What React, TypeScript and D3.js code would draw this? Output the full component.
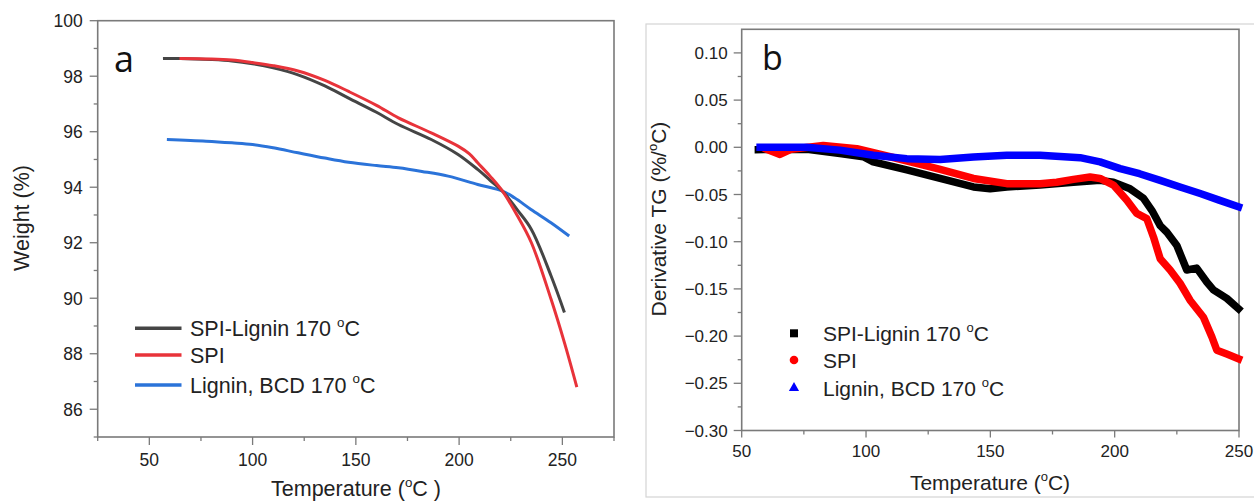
import React from "react";
import * as d3 from "d3";

// ---------- Panel a data (TGA weight %) ----------
const aBlackT = [56.6, 65, 80, 90, 100, 110, 122, 135, 146.5, 160, 170.6, 186.5, 199.5, 209, 215, 221, 228, 235, 244.5, 251];
const aBlackW = [98.64, 98.64, 98.6, 98.55, 98.45, 98.3, 98.05, 97.65, 97.21, 96.7, 96.26, 95.72, 95.18, 94.64, 94.25, 93.86, 93.2, 92.48, 90.81, 89.49];
const aRedT = [64.6, 80, 90, 100, 110, 122, 135, 146.5, 160, 170.6, 186.5, 199.5, 205, 209, 215, 221, 228, 235, 244.5, 251, 257];
const aRedW = [98.64, 98.62, 98.58, 98.49, 98.38, 98.19, 97.85, 97.45, 96.95, 96.5, 95.96, 95.48, 95.2, 94.88, 94.4, 93.86, 93.0, 92.0, 89.97, 88.4, 86.8];
const aBlueT = [58.5, 77.5, 90, 100, 110, 122, 135, 146.5, 160, 170.6, 182, 194.7, 209, 221, 226.8, 234.8, 244.5, 253.3];
const aBlueW = [95.72, 95.66, 95.6, 95.54, 95.42, 95.24, 95.05, 94.9, 94.78, 94.7, 94.57, 94.4, 94.1, 93.86, 93.62, 93.2, 92.72, 92.24];
const aXTicks = [50, 100, 150, 200, 250];
const aXMinor = [25, 75, 125, 175, 225, 275];
const aYTicks = [86, 88, 90, 92, 94, 96, 98, 100];
const aYMinor = [85, 87, 89, 91, 93, 95, 97, 99];

// ---------- Panel b data (derivative TG) ----------
const bBlackT = [56.7, 76.3, 89.5, 98.9, 102.9, 116.4, 129.8, 143.2, 149.9, 156.6, 170, 183.4, 194.1, 199.5, 206.2, 211.6, 215, 218.3, 221, 225, 229, 233, 237.1, 239.7, 245.1, 249.8];
const bBlackV = [-0.0025, -0.002, -0.0067, -0.01, -0.0155, -0.024, -0.033, -0.042, -0.044, -0.042, -0.040, -0.037, -0.035, -0.037, -0.044, -0.054, -0.067, -0.083, -0.090, -0.104, -0.130, -0.128, -0.143, -0.151, -0.160, -0.171];
const bRedT = [60, 65.4, 70, 82.8, 96.3, 109.7, 123.1, 129.8, 143.2, 156.6, 170, 176.7, 183.4, 190.1, 194.1, 199.5, 204.9, 208.9, 212.9, 215.6, 218.3, 222.3, 226.3, 230.3, 235.7, 239.1, 241.1, 245.1, 249.8];
const bRedV = [-0.002, -0.0075, -0.002, 0.002, -0.0015, -0.010, -0.019, -0.0235, -0.033, -0.0385, -0.0385, -0.037, -0.034, -0.0315, -0.033, -0.040, -0.056, -0.070, -0.0755, -0.095, -0.118, -0.130, -0.144, -0.162, -0.180, -0.201, -0.215, -0.219, -0.224];
const bBlueT = [57.4, 76.1, 89.5, 102.9, 116.4, 129.8, 143.2, 156.6, 170, 186.1, 194.1, 202.2, 210, 218.3, 226.3, 234.4, 242, 249.8];
const bBlueV = [0.0, 0.0, -0.003, -0.0085, -0.012, -0.013, -0.0103, -0.0085, -0.0085, -0.011, -0.0155, -0.0226, -0.028, -0.035, -0.042, -0.049, -0.056, -0.063];
const bXTicks = [50, 100, 150, 200, 250];
const bXMinor = [75, 125, 175, 225];
const bYTicks = [0.10, 0.05, 0.0, -0.05, -0.10, -0.15, -0.20, -0.25, -0.30];
const bYMinor = [0.075, 0.025, -0.025, -0.075, -0.125, -0.175, -0.225, -0.275];

const seriesNames = ["SPI-Lignin 170 ", "SPI", "Lignin, BCD 170 "];

const FONT = "'Liberation Sans', Arial, sans-serif";
const AXIS = "#7a7a7a";
const TXT = "#222";

function Deg({ size }: { size: number }) {
  return (
    <>
      <tspan fontSize={size * 0.62} dy={-size * 0.42}>o</tspan>
      <tspan dy={size * 0.42}>C</tspan>
    </>
  );
}

function zip(t: number[], v: number[]) {
  return t.map((x, i) => [x, v[i]] as [number, number]);
}

export default function App() {
  const xa = d3.scaleLinear().domain([25, 275]).range([97.7, 614]);
  const ya = d3.scaleLinear().domain([85, 100]).range([437, 20.7]);
  const xb = d3.scaleLinear().domain([50, 250]).range([741.7, 1239]);
  const yb = d3.scaleLinear().domain([-0.30, 0.125]).range([430.5, 29.3]);

  const lineA = d3.line<[number, number]>().x(d => xa(d[0])).y(d => ya(d[1])).curve(d3.curveCatmullRom.alpha(0.5));
  const lineB = d3.line<[number, number]>().x(d => xb(d[0])).y(d => yb(d[1])).curve(d3.curveLinear);

  const aColors = ["#454545", "#e8333a", "#2b73d9"];
  const bColors = ["#000000", "#ff0000", "#0000ff"];

  const aSeries = [zip(aBlueT, aBlueW), zip(aBlackT, aBlackW), zip(aRedT, aRedW)];
  const aSeriesColors = [aColors[2], aColors[0], aColors[1]];

  const bSeries = [zip(bBlackT, bBlackV), zip(bRedT, bRedV), zip(bBlueT, bBlueV)];

  const [ax0, ax1] = xa.range();
  const [ay0, ay1] = ya.range();
  const [bx0, bx1] = xb.range();
  const [by0, by1] = yb.range();

  const LA = 21.5;
  const LB = 21;

  return (
    <svg width={1254} height={503} style={{ position: "absolute", left: 0, top: 0, background: "#fff" }} fontFamily={FONT}>
      <rect x={0} y={0} width={1254} height={503} fill="#fff" />
      {/* ================= Panel a ================= */}
      <g>
        <rect x={ax0} y={ay1} width={ax1 - ax0} height={ay0 - ay1} fill="none" stroke={AXIS} strokeWidth={1.6} />
        {aYTicks.map(v => (
          <g key={"ay" + v}>
            <line x1={ax0 - 8} x2={ax0} y1={ya(v)} y2={ya(v)} stroke={AXIS} strokeWidth={1.3} />
            <text x={ax0 - 15} y={ya(v)} dy="0.36em" textAnchor="end" fontSize={17.5} fill={TXT}>{v}</text>
          </g>
        ))}
        {aYMinor.map(v => (
          <line key={"aym" + v} x1={ax0 - 4} x2={ax0} y1={ya(v)} y2={ya(v)} stroke={AXIS} strokeWidth={1.3} />
        ))}
        {aXTicks.map(v => (
          <g key={"ax" + v}>
            <line x1={xa(v)} x2={xa(v)} y1={ay0} y2={ay0 + 8} stroke={AXIS} strokeWidth={1.3} />
            <text x={xa(v)} y={466} textAnchor="middle" fontSize={17.5} fill={TXT}>{v}</text>
          </g>
        ))}
        {aXMinor.map(v => (
          <line key={"axm" + v} x1={xa(v)} x2={xa(v)} y1={ay0} y2={ay0 + 4} stroke={AXIS} strokeWidth={1.3} />
        ))}
        {aSeries.map((s, i) => (
          <path key={"as" + i} d={lineA(s) || ""} fill="none" stroke={aSeriesColors[i]} strokeWidth={3} strokeLinecap="butt" />
        ))}
        <text x={114} y={72} fontSize={36} fontFamily="'Open Sans', sans-serif" fill="#111">a</text>
        {seriesNames.map((n, i) => {
          const ly = [328.3, 355, 385][i];
          return (
            <g key={"al" + i}>
              <line x1={135} x2={181.5} y1={ly} y2={ly} stroke={aColors[i]} strokeWidth={3.5} />
              <text x={190} y={ly + 7.5} fontSize={LA} fill={TXT}>
                {n}
                {i !== 1 ? <Deg size={LA} /> : null}
              </text>
            </g>
          );
        })}
        <text transform={`translate(29,218) rotate(-90)`} textAnchor="middle" fontSize={LA} fill={TXT}>Weight (%)</text>
        <text x={356} y={496} textAnchor="middle" fontSize={LA} fill={TXT}>
          Temperature (<Deg size={LA} /> )
        </text>
      </g>

      {/* ================= Panel b ================= */}
      <g>
        <rect x={646} y={24} width={640} height={473} fill="none" stroke="#d4d4d4" strokeWidth={1.2} />
        <rect x={bx0} y={by1} width={bx1 - bx0} height={by0 - by1} fill="none" stroke={AXIS} strokeWidth={1.6} />
        {bYTicks.map(v => (
          <g key={"by" + v}>
            <line x1={bx0 - 8} x2={bx0} y1={yb(v)} y2={yb(v)} stroke={AXIS} strokeWidth={1.3} />
            <text x={bx0 - 14} y={yb(v)} dy="0.36em" textAnchor="end" fontSize={17} fill={TXT}>{d3.format(".2f")(v)}</text>
          </g>
        ))}
        {bYMinor.map(v => (
          <line key={"bym" + v} x1={bx0 - 4} x2={bx0} y1={yb(v)} y2={yb(v)} stroke={AXIS} strokeWidth={1.3} />
        ))}
        {bXTicks.map(v => (
          <g key={"bx" + v}>
            <line x1={xb(v)} x2={xb(v)} y1={by0} y2={by0 + 7} stroke={AXIS} strokeWidth={1.3} />
            <text x={xb(v)} y={457} textAnchor="middle" fontSize={17} fill={TXT}>{v}</text>
          </g>
        ))}
        {bXMinor.map(v => (
          <line key={"bxm" + v} x1={xb(v)} x2={xb(v)} y1={by0} y2={by0 + 4} stroke={AXIS} strokeWidth={1.3} />
        ))}
        {bSeries.map((s, i) => (
          <g key={"bs" + i}>
            <path d={lineB(s) || ""} fill="none" stroke={bColors[i]} strokeWidth={7.5} strokeLinejoin="round" strokeLinecap="square" />
          </g>
        ))}
        <text x={762} y={70} fontSize={34} fontFamily="'Open Sans', sans-serif" fill="#111">b</text>
        {seriesNames.map((n, i) => {
          const ly = [333.3, 360, 388][i];
          const mx = 794;
          return (
            <g key={"bl" + i}>
              {i === 0 && <rect x={mx - 4} y={ly - 4} width={8} height={8} fill="#000" />}
              {i === 1 && <circle cx={mx} cy={ly} r={4.3} fill="#ff0000" />}
              {i === 2 && <path d={d3.symbol().type(d3.symbolTriangle).size(45)() || ""} transform={`translate(${mx},${ly})`} fill="#0000ff" />}
              <text x={823} y={ly + 7.5} fontSize={LB} fill={TXT}>
                {n}
                {i !== 1 ? <Deg size={LB} /> : null}
              </text>
            </g>
          );
        })}
        <text transform={`translate(666,219) rotate(-90)`} textAnchor="middle" fontSize={LB} fill={TXT}>
          Derivative TG (%/<Deg size={LB} />)
        </text>
        <text x={990} y={490} textAnchor="middle" fontSize={LB} fill={TXT}>
          Temperature (<Deg size={LB} />)
        </text>
      </g>
    </svg>
  );
}
